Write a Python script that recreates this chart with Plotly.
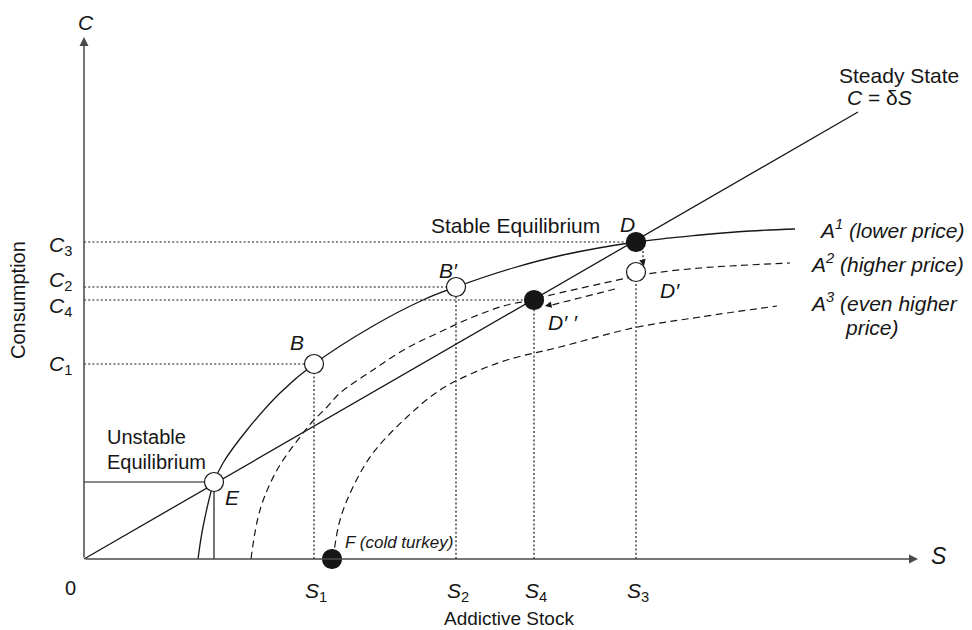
import plotly.graph_objects as go

# ---------------- data (S = addictive stock, C = consumption; arbitrary units) ----------------
A1_S = [114, 119, 130, 139, 163, 196, 230, 289, 339, 372, 429, 479, 552, 616, 666, 711]
A1_C = [0, 32, 77, 96, 129, 166, 195, 233, 259, 272, 291, 304, 317, 324, 328, 330]

A2_S = [167, 176, 193, 216, 229, 243, 256, 289, 323, 356, 389, 423, 450, 459, 543, 563, 616, 706]
A2_C = [0, 49, 89, 122, 138, 152, 166, 189, 211, 227, 242, 254, 259, 262, 281, 285, 291, 296]

A3_S = [249, 256, 269, 289, 323, 356, 389, 423, 476, 549, 616, 693]
A3_C = [0, 39, 72, 106, 142, 169, 186, 199, 212, 231, 242, 253]

DELTA = 0.5775          # steady state C = delta * S
SS_S_END = 774

POINT_NAMES = ["E", "B", "B'", "D", "D'", "D''", "F"]
POINT_S = [130, 230, 372, 552, 552, 450, 248]
POINT_C = [77, 195, 272, 317, 287, 259, 0]
POINT_FILLED = [False, False, False, True, False, True, True]

C_TICK_LABELS = ["C1", "C2", "C4", "C3"]
C_TICK_VALUES = [195, 272, 259, 317]
C_TICK_S_END = [230, 372, 450, 552]

S_TICK_LABELS = ["S1", "S2", "S4", "S3"]
S_TICK_VALUES = [230, 372, 450, 552]
S_TICK_C_END = [195, 272, 259, 287]

S_AXIS_END = 834
C_AXIS_END = 522

# ---------------- figure ----------------
INK = "#161616"
AXIS = "#4a4a4a"
FONT = "Liberation Sans, Arial, Helvetica, sans-serif"

fig = go.Figure()


def line(xs, ys, dash="solid", width=1.3, color=INK, shape="linear"):
    fig.add_trace(go.Scatter(x=xs, y=ys, mode="lines",
                             line=dict(color=color, width=width, dash=dash, shape=shape),
                             hoverinfo="skip", showlegend=False))


DOT = "2px,2.2px"
DASH = "7px,4.5px"

# dotted reference lines
for c, s_end in zip(C_TICK_VALUES, C_TICK_S_END):
    line([0, s_end], [c, c], dash=DOT, width=1.2)
for s, c_end in zip(S_TICK_VALUES, S_TICK_C_END):
    line([s, s], [0, c_end], dash=DOT, width=1.2)

# unstable equilibrium projections (solid)
e = POINT_NAMES.index("E")
line([0, POINT_S[e]], [POINT_C[e], POINT_C[e]], width=1.2)
line([POINT_S[e], POINT_S[e]], [0, POINT_C[e]], width=1.2)

# curves
line(A1_S, A1_C, width=1.3, shape="spline")
line(A2_S, A2_C, dash=DASH, width=1.2, shape="spline")
line(A3_S, A3_C, dash=DASH, width=1.2, shape="spline")
line([0, SS_S_END], [0, DELTA * SS_S_END], width=1.3)

# D -> D' small arrow and D' -> D'' arrow (dashed/dotted shafts)
d = POINT_NAMES.index("D")
dp = POINT_NAMES.index("D'")
dpp = POINT_NAMES.index("D''")
line([POINT_S[d] + 7, POINT_S[d] + 7], [POINT_C[d] - 9, POINT_C[dp] + 8], dash=DOT, width=1.2)
line([POINT_S[dp] - 21, POINT_S[dpp] + 14], [POINT_C[dp] - 17, POINT_C[dpp] - 6], dash=DASH, width=1.2)

# points
fig.add_trace(go.Scatter(
    x=POINT_S, y=POINT_C, mode="markers",
    marker=dict(size=19, color=[INK if f else "white" for f in POINT_FILLED],
                line=dict(color=INK, width=1.2)),
    hoverinfo="skip", showlegend=False, cliponaxis=False))

ann = []


def text(x, y, t, size=21, xanchor="center", yanchor="middle", angle=0):
    ann.append(dict(x=x, y=y, xref="x", yref="y", text=t, showarrow=False,
                    xanchor=xanchor, yanchor=yanchor, textangle=angle,
                    font=dict(family=FONT, size=size, color=INK)))


def arrow(x, y, ax, ay, width=1.5, size=1.2, color=AXIS):
    ann.append(dict(x=x, y=y, ax=ax, ay=ay, xref="x", yref="y", axref="x", ayref="y",
                    text="", showarrow=True, arrowhead=2, arrowsize=size,
                    arrowwidth=width, arrowcolor=color, standoff=0, startstandoff=0))


# axes
arrow(0, C_AXIS_END, 0, 0)
arrow(S_AXIS_END, 0, 0, 0)
# small arrows
arrow(POINT_S[d] + 8, POINT_C[dp] + 6, POINT_S[d] + 7, POINT_C[dp] + 10, width=1.2, size=1.1, color=INK)
arrow(POINT_S[dpp] + 11, POINT_C[dpp] - 6, POINT_S[dpp] + 18, POINT_C[dpp] - 4.5, width=1.2, size=1.1, color=INK)

# axis labels
text(2, 537, "<i>C</i>", size=21)
text(855, 3, "<i>S</i>", size=23)
text(-14, -29, "0", size=20)
text(-66, 259, "Consumption", size=20, angle=-90)
text(425, -59, "Addictive Stock", size=19)

# tick-like labels
C_LABEL_Y = {"C1": 194, "C2": 278, "C4": 252, "C3": 313}
for lab in C_TICK_LABELS:
    text(-10, C_LABEL_Y[lab], "<i>C</i><sub>%s</sub>" % lab[1], size=21, xanchor="right")
for lab, s in zip(S_TICK_LABELS, S_TICK_VALUES):
    text(s + 2, -33, "<i>S</i><sub>%s</sub>" % lab[1], size=21)

# annotations on the chart
text(815, 484, "Steady State", size=21)
text(795, 462, "<i>C</i> = δ<i>S</i>", size=21)
text(733, 330, "<i>A<sup>1</sup> (lower price)</i>", size=21, xanchor="left")
text(724, 296, "<i>A<sup>2</sup> (higher price)</i>", size=21, xanchor="left")
text(724, 257, "<i>A<sup>3</sup> (even higher</i>", size=21, xanchor="left")
text(759, 232, "<i>price)</i>", size=21, xanchor="left")
text(431, 334, "Stable Equilibrium", size=21)
text(543, 335, "<i>D</i>", size=21)
text(364, 289, "<i>B′</i>", size=21)
text(213, 217, "<i>B</i>", size=21)
text(586, 269, "<i>D′</i>", size=21)
text(479, 237, "<i>D′ ′</i>", size=21)
text(148, 62, "<i>E</i>", size=21)
text(21, 122, "Unstable", size=20, xanchor="left")
text(21, 97, "Equilibrium", size=20, xanchor="left")
text(259, 17, "<i>F (cold turkey)</i>", size=17, xanchor="left")

# the page body adds an 8px margin; size the figure to fill the rest of the window
fig.update_layout(
    width=964, height=622,
    margin=dict(l=0, r=0, t=0, b=0),
    paper_bgcolor="white", plot_bgcolor="white",
    xaxis=dict(range=[-76, 888], visible=False, fixedrange=True),
    yaxis=dict(range=[-71, 551], visible=False, fixedrange=True),
    annotations=ann,
    font=dict(family=FONT, color=INK),
)

fig.write_html("out.html")
